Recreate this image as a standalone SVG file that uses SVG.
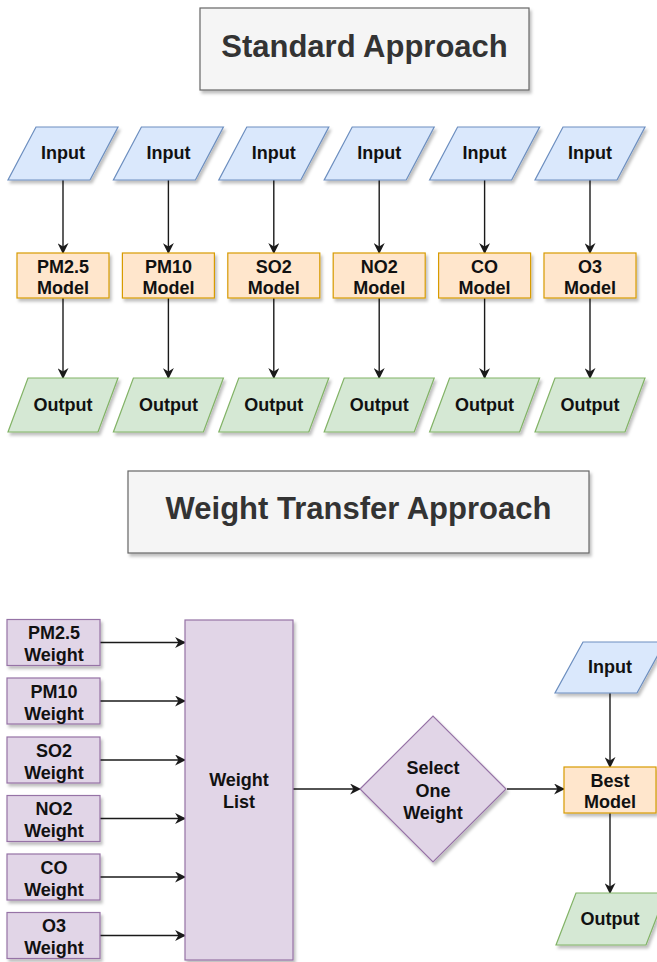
<svg xmlns="http://www.w3.org/2000/svg" width="657" height="962" viewBox="0 0 657 962">
  <style>
    text { font-family: "Liberation Sans", Arial, Helvetica, sans-serif; font-weight: bold; text-anchor: middle; }
    .lbl { font-size: 18px; fill: #111111; }
    .title { font-size: 31px; fill: #333333; }
    .titlebox { fill: #f5f5f5; stroke: #666666; stroke-width: 1.2; }
    .in { fill: #dae8fc; stroke: #6c8ebf; stroke-width: 1.2; }
    .model { fill: #ffe6cc; stroke: #d79b00; stroke-width: 1.2; }
    .out { fill: #d5e8d4; stroke: #82b366; stroke-width: 1.2; }
    .wt { fill: #e1d5e7; stroke: #9673a6; stroke-width: 1.2; }
    .edge { fill: none; stroke: #1a1a1a; stroke-width: 1.4; marker-end: url(#arrow); }
  </style>
  <defs>
    <filter id="shadow" x="-10%" y="-10%" width="130%" height="140%">
      <feDropShadow dx="2" dy="3" stdDeviation="1.5" flood-color="#000000" flood-opacity="0.25"/>
    </filter>
    <marker id="arrow" viewBox="0 0 10 10" refX="9" refY="5" markerWidth="11" markerHeight="11" markerUnits="userSpaceOnUse" orient="auto">
      <path d="M0,0 L10,5 L0,10 L3,5 Z" fill="#1a1a1a"/>
    </marker>
  </defs>
  <rect width="657" height="962" fill="#ffffff"/>

  <!-- Section titles -->
  <g id="title-standard">
    <rect class="titlebox" x="200" y="8" width="329" height="82" filter="url(#shadow)"/>
    <text class="title" x="364.5" y="57">Standard Approach</text>
  </g>
  <g id="title-weight-transfer">
    <rect class="titlebox" x="128" y="471" width="461" height="82" filter="url(#shadow)"/>
    <text class="title" x="358.5" y="519">Weight Transfer Approach</text>
  </g>

  <!-- Connectors -->
  <g id="connectors">
    <!-- standard approach: input -> model -> output -->
    <line class="edge" x1="63" y1="180" x2="63" y2="253"/>
    <line class="edge" x1="168.4" y1="180" x2="168.4" y2="253"/>
    <line class="edge" x1="273.8" y1="180" x2="273.8" y2="253"/>
    <line class="edge" x1="379.2" y1="180" x2="379.2" y2="253"/>
    <line class="edge" x1="484.6" y1="180" x2="484.6" y2="253"/>
    <line class="edge" x1="590" y1="180" x2="590" y2="253"/>
    <line class="edge" x1="63" y1="298" x2="63" y2="378"/>
    <line class="edge" x1="168.4" y1="298" x2="168.4" y2="378"/>
    <line class="edge" x1="273.8" y1="298" x2="273.8" y2="378"/>
    <line class="edge" x1="379.2" y1="298" x2="379.2" y2="378"/>
    <line class="edge" x1="484.6" y1="298" x2="484.6" y2="378"/>
    <line class="edge" x1="590" y1="298" x2="590" y2="378"/>
    <!-- weight transfer: weights -> list -> select -> best model -->
    <line class="edge" x1="100" y1="642.5" x2="185" y2="642.5"/>
    <line class="edge" x1="100" y1="701" x2="185" y2="701"/>
    <line class="edge" x1="100" y1="760" x2="185" y2="760"/>
    <line class="edge" x1="100" y1="818.5" x2="185" y2="818.5"/>
    <line class="edge" x1="100" y1="877" x2="185" y2="877"/>
    <line class="edge" x1="100" y1="935.5" x2="185" y2="935.5"/>
    <line class="edge" x1="293" y1="789" x2="360" y2="789"/>
    <line class="edge" x1="507" y1="789" x2="564" y2="789"/>
    <line class="edge" x1="610" y1="693" x2="610" y2="767"/>
    <line class="edge" x1="610" y1="813" x2="610" y2="893"/>
  </g>

  <!-- Standard approach: inputs -->
  <g id="input-pm25"><polygon class="in" filter="url(#shadow)" points="8,180 90,180 118,127 36,127"/><text class="lbl" x="63" y="159">Input</text></g>
  <g id="input-pm10"><polygon class="in" filter="url(#shadow)" points="113.4,180 195.4,180 223.4,127 141.4,127"/><text class="lbl" x="168.4" y="159">Input</text></g>
  <g id="input-so2"><polygon class="in" filter="url(#shadow)" points="218.8,180 300.8,180 328.8,127 246.8,127"/><text class="lbl" x="273.8" y="159">Input</text></g>
  <g id="input-no2"><polygon class="in" filter="url(#shadow)" points="324.2,180 406.2,180 434.2,127 352.2,127"/><text class="lbl" x="379.2" y="159">Input</text></g>
  <g id="input-co"><polygon class="in" filter="url(#shadow)" points="429.6,180 511.6,180 539.6,127 457.6,127"/><text class="lbl" x="484.6" y="159">Input</text></g>
  <g id="input-o3"><polygon class="in" filter="url(#shadow)" points="535,180 617,180 645,127 563,127"/><text class="lbl" x="590" y="159">Input</text></g>

  <!-- Standard approach: models -->
  <g id="model-pm25"><rect class="model" filter="url(#shadow)" x="17" y="253" width="92" height="45"/><text class="lbl" x="63" y="273">PM2.5</text><text class="lbl" x="63" y="294">Model</text></g>
  <g id="model-pm10"><rect class="model" filter="url(#shadow)" x="122.4" y="253" width="92" height="45"/><text class="lbl" x="168.4" y="273">PM10</text><text class="lbl" x="168.4" y="294">Model</text></g>
  <g id="model-so2"><rect class="model" filter="url(#shadow)" x="227.8" y="253" width="92" height="45"/><text class="lbl" x="273.8" y="273">SO2</text><text class="lbl" x="273.8" y="294">Model</text></g>
  <g id="model-no2"><rect class="model" filter="url(#shadow)" x="333.2" y="253" width="92" height="45"/><text class="lbl" x="379.2" y="273">NO2</text><text class="lbl" x="379.2" y="294">Model</text></g>
  <g id="model-co"><rect class="model" filter="url(#shadow)" x="438.6" y="253" width="92" height="45"/><text class="lbl" x="484.6" y="273">CO</text><text class="lbl" x="484.6" y="294">Model</text></g>
  <g id="model-o3"><rect class="model" filter="url(#shadow)" x="544" y="253" width="92" height="45"/><text class="lbl" x="590" y="273">O3</text><text class="lbl" x="590" y="294">Model</text></g>

  <!-- Standard approach: outputs -->
  <g id="output-pm25"><polygon class="out" filter="url(#shadow)" points="8,432 98,432 118,378 28,378"/><text class="lbl" x="63" y="411">Output</text></g>
  <g id="output-pm10"><polygon class="out" filter="url(#shadow)" points="113.4,432 203.4,432 223.4,378 133.4,378"/><text class="lbl" x="168.4" y="411">Output</text></g>
  <g id="output-so2"><polygon class="out" filter="url(#shadow)" points="218.8,432 308.8,432 328.8,378 238.8,378"/><text class="lbl" x="273.8" y="411">Output</text></g>
  <g id="output-no2"><polygon class="out" filter="url(#shadow)" points="324.2,432 414.2,432 434.2,378 344.2,378"/><text class="lbl" x="379.2" y="411">Output</text></g>
  <g id="output-co"><polygon class="out" filter="url(#shadow)" points="429.6,432 519.6,432 539.6,378 449.6,378"/><text class="lbl" x="484.6" y="411">Output</text></g>
  <g id="output-o3"><polygon class="out" filter="url(#shadow)" points="535,432 625,432 645,378 555,378"/><text class="lbl" x="590" y="411">Output</text></g>

  <!-- Weight transfer: per-pollutant weights -->
  <g id="weight-pm25"><rect class="wt" filter="url(#shadow)" x="7" y="619.5" width="93" height="46"/><text class="lbl" x="54" y="639">PM2.5</text><text class="lbl" x="54" y="661">Weight</text></g>
  <g id="weight-pm10"><rect class="wt" filter="url(#shadow)" x="7" y="678" width="93" height="46"/><text class="lbl" x="54" y="697.5">PM10</text><text class="lbl" x="54" y="719.5">Weight</text></g>
  <g id="weight-so2"><rect class="wt" filter="url(#shadow)" x="7" y="737" width="93" height="46"/><text class="lbl" x="54" y="756.5">SO2</text><text class="lbl" x="54" y="778.5">Weight</text></g>
  <g id="weight-no2"><rect class="wt" filter="url(#shadow)" x="7" y="795.5" width="93" height="46"/><text class="lbl" x="54" y="815">NO2</text><text class="lbl" x="54" y="837">Weight</text></g>
  <g id="weight-co"><rect class="wt" filter="url(#shadow)" x="7" y="854" width="93" height="46"/><text class="lbl" x="54" y="873.5">CO</text><text class="lbl" x="54" y="895.5">Weight</text></g>
  <g id="weight-o3"><rect class="wt" filter="url(#shadow)" x="7" y="912.5" width="93" height="46"/><text class="lbl" x="54" y="932">O3</text><text class="lbl" x="54" y="954">Weight</text></g>

  <!-- Weight transfer: collection, selection and final model -->
  <g id="weight-list"><rect class="wt" filter="url(#shadow)" x="185" y="620" width="108" height="340"/><text class="lbl" x="239" y="786">Weight</text><text class="lbl" x="239" y="808">List</text></g>
  <g id="select-weight"><polygon class="wt" filter="url(#shadow)" points="360,789 433,716 506,789 433,862"/><text class="lbl" x="433" y="774">Select</text><text class="lbl" x="433" y="797">One</text><text class="lbl" x="433" y="819">Weight</text></g>
  <g id="input-best"><polygon class="in" filter="url(#shadow)" points="555,693 637,693 665,642 583,642"/><text class="lbl" x="610" y="673">Input</text></g>
  <g id="model-best"><rect class="model" filter="url(#shadow)" x="564" y="767" width="92" height="46"/><text class="lbl" x="610" y="787">Best</text><text class="lbl" x="610" y="808">Model</text></g>
  <g id="output-best"><polygon class="out" filter="url(#shadow)" points="556,945 646,945 666,893 576,893"/><text class="lbl" x="610" y="925">Output</text></g>
</svg>
